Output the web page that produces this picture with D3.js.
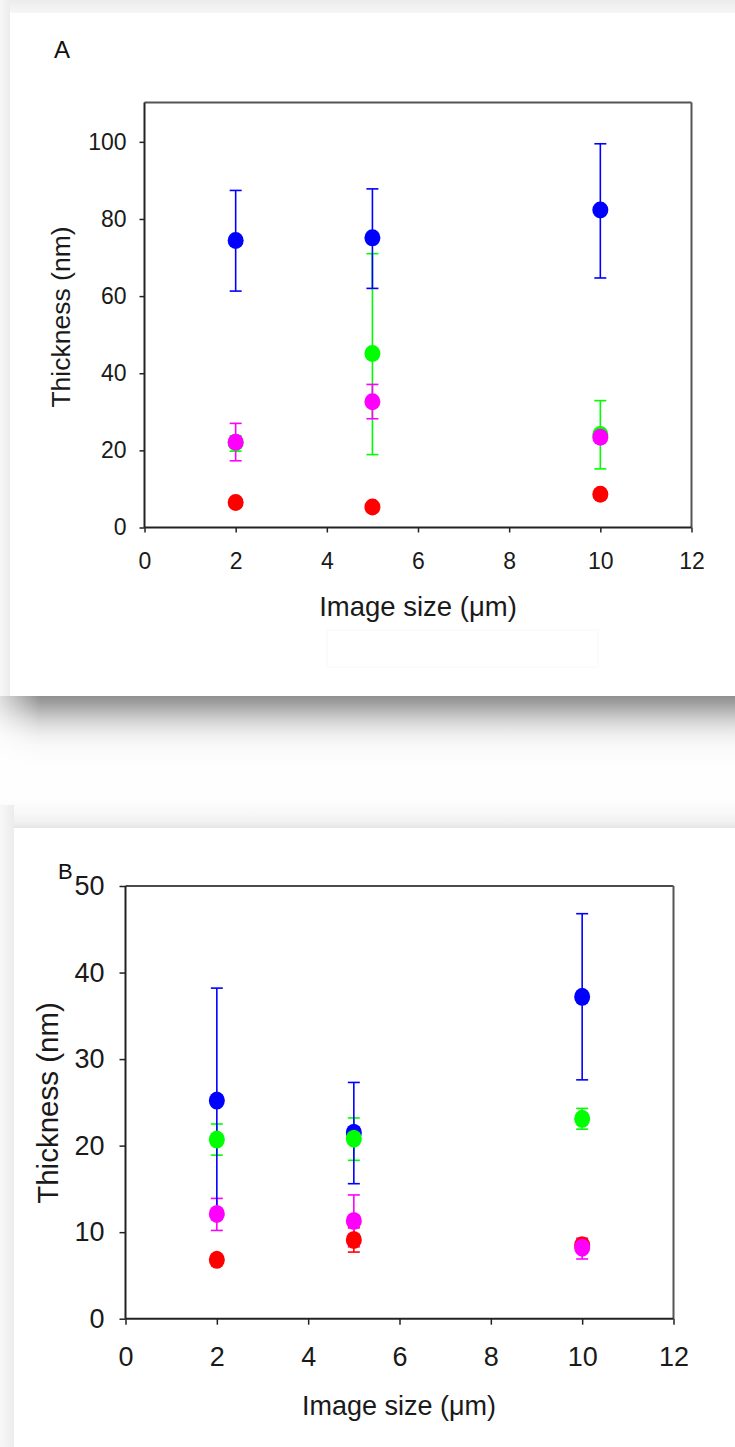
<!DOCTYPE html>
<html><head><meta charset="utf-8">
<script src="https://cdn.jsdelivr.net/npm/d3@7"></script>
<style>html,body{margin:0;padding:0;background:#fff;} svg{display:block;}</style>
</head><body>
<svg id="chart" width="735" height="1447"></svg>
<script>
// ---------- DATA ----------
const xValues = [2, 5, 10];
const xTicks = [0, 2, 4, 6, 8, 10, 12];
const yTicksA = [0, 20, 40, 60, 80, 100];
const yTicksB = [0, 10, 20, 30, 40, 50];
const seriesNames = ["blue", "green", "magenta", "red"];
const seriesColors = ["#0000ff", "#00ff00", "#ff00ff", "#ff0000"];

// Panel A (mean, lower error end, upper error end)
const aBlueMean = [74.4, 75.1, 82.3], aBlueLo = [61.3, 62.0, 64.7], aBlueHi = [87.4, 87.8, 99.5];
const aGreenMean = [22.0, 45.1, 24.1], aGreenLo = [19.8, 18.9, 15.2], aGreenHi = [23.8, 71.0, 32.9];
const aMagentaMean = [22.1, 32.6, 23.4], aMagentaLo = [17.3, 28.2, 22.4], aMagentaHi = [27.0, 37.1, 24.4];
const aRedMean = [6.5, 5.3, 8.6], aRedLo = [5.8, 4.6, 7.9], aRedHi = [7.2, 6.0, 9.3];

// Panel B
const bBlueMean = [25.2, 21.5, 37.2], bBlueLo = [12.2, 15.6, 27.6], bBlueHi = [38.2, 27.3, 46.8];
const bGreenMean = [20.7, 20.8, 23.1], bGreenLo = [18.9, 18.3, 21.9], bGreenHi = [22.5, 23.2, 24.3];
const bMagentaMean = [12.1, 11.3, 8.2], bMagentaLo = [10.2, 8.3, 6.9], bMagentaHi = [13.9, 14.3, 9.3];
const bRedMean = [6.8, 9.1, 8.5], bRedLo = [6.3, 7.7, 8.0], bRedHi = [7.3, 10.5, 9.0];

const xTitle = "Image size (μm)";
const yTitle = "Thickness (nm)";

// ---------- DRAWING ----------
const svg = d3.select("#chart");
const defs = svg.append("defs");
function vgrad(id, stops, horiz) {
  const g = defs.append("linearGradient").attr("id", id)
    .attr("x1", 0).attr("y1", 0).attr("x2", horiz ? 1 : 0).attr("y2", horiz ? 0 : 1);
  stops.forEach(s => g.append("stop").attr("offset", s[0]).attr("stop-color", s[1]));
}
vgrad("topBand", [[0, "#ececec"], [1, "#f6f6f6"]]);
vgrad("leftBand", [[0, "#f7f7f7"], [1, "#ececec"]], true);
vgrad("shadowA", [[0, "#909090"], [0.08, "#9c9c9c"], [0.2, "#b4b4b4"], [0.32, "#cdcdcd"], [0.45, "#e2e2e2"], [0.58, "#f1f1f1"], [0.72, "#f9f9f9"], [1, "#fefefe"]]);
vgrad("shadowB", [[0, "#fefefe"], [0.5, "#f8f8f8"], [0.8, "#f1f1f1"], [1, "#e6e6e6"]]);
vgrad("shadowFadeLeft", [[0, "#ffffff"], [1, "#ffffff00"]], true);

svg.append("rect").attr("x", 0).attr("y", 0).attr("width", 735).attr("height", 1447).attr("fill", "#fefefe");
svg.append("rect").attr("x", 0).attr("y", 0).attr("width", 735).attr("height", 13).attr("fill", "url(#topBand)");
svg.append("rect").attr("x", 0).attr("y", 0).attr("width", 10).attr("height", 700).attr("fill", "url(#leftBand)");
svg.append("rect").attr("x", 10).attr("y", 13).attr("width", 725).attr("height", 683).attr("fill", "#ffffff");
svg.append("rect").attr("x", 0).attr("y", 696).attr("width", 735).attr("height", 70).attr("fill", "url(#shadowA)");
svg.append("rect").attr("x", 0).attr("y", 696).attr("width", 40).attr("height", 70).attr("fill", "url(#shadowFadeLeft)").attr("opacity", 0.7);
svg.append("rect").attr("x", 0).attr("y", 798).attr("width", 735).attr("height", 30).attr("fill", "url(#shadowB)");
svg.append("rect").attr("x", 0).attr("y", 805).attr("width", 14).attr("height", 642).attr("fill", "url(#leftBand)");
svg.append("rect").attr("x", 14).attr("y", 828).attr("width", 721).attr("height", 619).attr("fill", "#ffffff");
// faint outline seen in panel A below the title
svg.append("rect").attr("x", 327).attr("y", 630).attr("width", 271).attr("height", 37)
  .attr("fill", "none").attr("stroke", "#f8f8f8").attr("stroke-width", 1);

function drawPanel(cfg) {
  const x = d3.scaleLinear().domain([0, 12]).range([cfg.left, cfg.right]);
  const y = d3.scaleLinear().domain([0, cfg.yMax]).range([cfg.bottom, cfg.top]);
  const g = svg.append("g");
  const font = "'Liberation Sans', Arial, sans-serif";

  // frame top & right
  g.append("line").attr("x1", cfg.left).attr("x2", cfg.right).attr("y1", cfg.top).attr("y2", cfg.top)
    .attr("stroke", cfg.topColor).attr("stroke-width", cfg.topWidth);
  g.append("line").attr("x1", cfg.right).attr("x2", cfg.right).attr("y1", cfg.top).attr("y2", cfg.bottom)
    .attr("stroke", "#555").attr("stroke-width", 2);

  // axes
  const xAxis = d3.axisBottom(x).tickValues(xTicks).tickSize(cfg.tick).tickPadding(cfg.xPad).tickFormat(d3.format("d"));
  const yAxis = d3.axisLeft(y).tickValues(cfg.yTicks).tickSize(cfg.tick).tickPadding(cfg.yPad).tickFormat(d3.format("d"));
  const gx = g.append("g").attr("transform", `translate(0,${cfg.bottom})`).call(xAxis);
  const gy = g.append("g").attr("transform", `translate(${cfg.left},0)`).call(yAxis);
  [gx, gy].forEach(a => {
    a.select(".domain").attr("stroke", "#222").attr("stroke-width", 2);
    a.selectAll(".tick line").attr("stroke", "#222").attr("stroke-width", 1.5);
    a.selectAll(".tick text").attr("fill", "#1a1a1a")
      .style("font-family", font).style("font-size", cfg.tickFont + "px");
  });
  gx.select(".domain").attr("d", `M${cfg.left},0H${cfg.right}`);
  gy.select(".domain").attr("d", `M0,${cfg.bottom}V${cfg.top}`);

  // titles
  g.append("text").attr("x", cfg.xTitleX).attr("y", cfg.xTitleY).attr("text-anchor", "middle")
    .style("font-family", font).style("font-size", cfg.xTitleFont + "px")
    .attr("fill", "#1a1a1a").text(xTitle);
  g.append("text").attr("transform", `translate(${cfg.yTitleX},${cfg.yTitleY}) rotate(-90)`)
    .attr("text-anchor", "middle").attr("dominant-baseline", "central")
    .style("font-family", font).style("font-size", cfg.yTitleFont + "px")
    .attr("fill", "#1a1a1a").text(yTitle);
  g.append("text").attr("x", cfg.labelX).attr("y", cfg.labelY)
    .style("font-family", font).style("font-size", cfg.labelFont + "px")
    .attr("fill", "#111").text(cfg.label);

  // error bars (drawn first), then points
  const barOrder = ["green", "red", "magenta", "blue"];
  const capHalf = 6;
  barOrder.forEach(name => {
    const s = cfg.series[name];
    const col = seriesColors[seriesNames.indexOf(name)];
    const eg = g.append("g").attr("stroke", col).attr("stroke-width", 1.6).attr("fill", "none");
    xValues.forEach((xv, i) => {
      const cx = x(xv);
      eg.append("line").attr("x1", cx).attr("x2", cx).attr("y1", y(s.lo[i])).attr("y2", y(s.hi[i]));
      eg.append("line").attr("x1", cx - capHalf).attr("x2", cx + capHalf).attr("y1", y(s.lo[i])).attr("y2", y(s.lo[i]));
      eg.append("line").attr("x1", cx - capHalf).attr("x2", cx + capHalf).attr("y1", y(s.hi[i])).attr("y2", y(s.hi[i]));
    });
  });
  const pointOrder = ["red", "blue", "green", "magenta"];
  pointOrder.forEach(name => {
    const s = cfg.series[name];
    const col = seriesColors[seriesNames.indexOf(name)];
    g.append("g").selectAll("ellipse").data(xValues).join("ellipse")
      .attr("cx", d => x(d)).attr("cy", (d, i) => y(s.mean[i]))
      .attr("rx", cfg.rx).attr("ry", cfg.ry).attr("fill", col);
  });
}

drawPanel({
  left: 144.5, right: 691.5, top: 102.5, bottom: 527.5, yMax: 110.2, yTicks: yTicksA,
  tick: 5, xPad: 20, yPad: 13, tickFont: 23,
  topColor: "#555", topWidth: 2,
  xTitleX: 418, xTitleY: 616, xTitleFont: 27.5,
  yTitleX: 61, yTitleY: 317, yTitleFont: 26.5,
  label: "A", labelX: 54, labelY: 58, labelFont: 24,
  rx: 8, ry: 8.5,
  series: {
    blue: {mean: aBlueMean, lo: aBlueLo, hi: aBlueHi},
    green: {mean: aGreenMean, lo: aGreenLo, hi: aGreenHi},
    magenta: {mean: aMagentaMean, lo: aMagentaLo, hi: aMagentaHi},
    red: {mean: aRedMean, lo: aRedLo, hi: aRedHi}
  }
});

drawPanel({
  left: 125.5, right: 673.5, top: 886, bottom: 1318.7, yMax: 50, yTicks: yTicksB,
  tick: 6, xPad: 22, yPad: 15, tickFont: 27,
  topColor: "#111", topWidth: 1.5,
  xTitleX: 399, xTitleY: 1415, xTitleFont: 27,
  yTitleX: 47, yTitleY: 1103, yTitleFont: 29.5,
  label: "B", labelX: 58, labelY: 879, labelFont: 22,
  rx: 8, ry: 9,
  series: {
    blue: {mean: bBlueMean, lo: bBlueLo, hi: bBlueHi},
    green: {mean: bGreenMean, lo: bGreenLo, hi: bGreenHi},
    magenta: {mean: bMagentaMean, lo: bMagentaLo, hi: bMagentaHi},
    red: {mean: bRedMean, lo: bRedLo, hi: bRedHi}
  }
});
</script>
</body></html>
